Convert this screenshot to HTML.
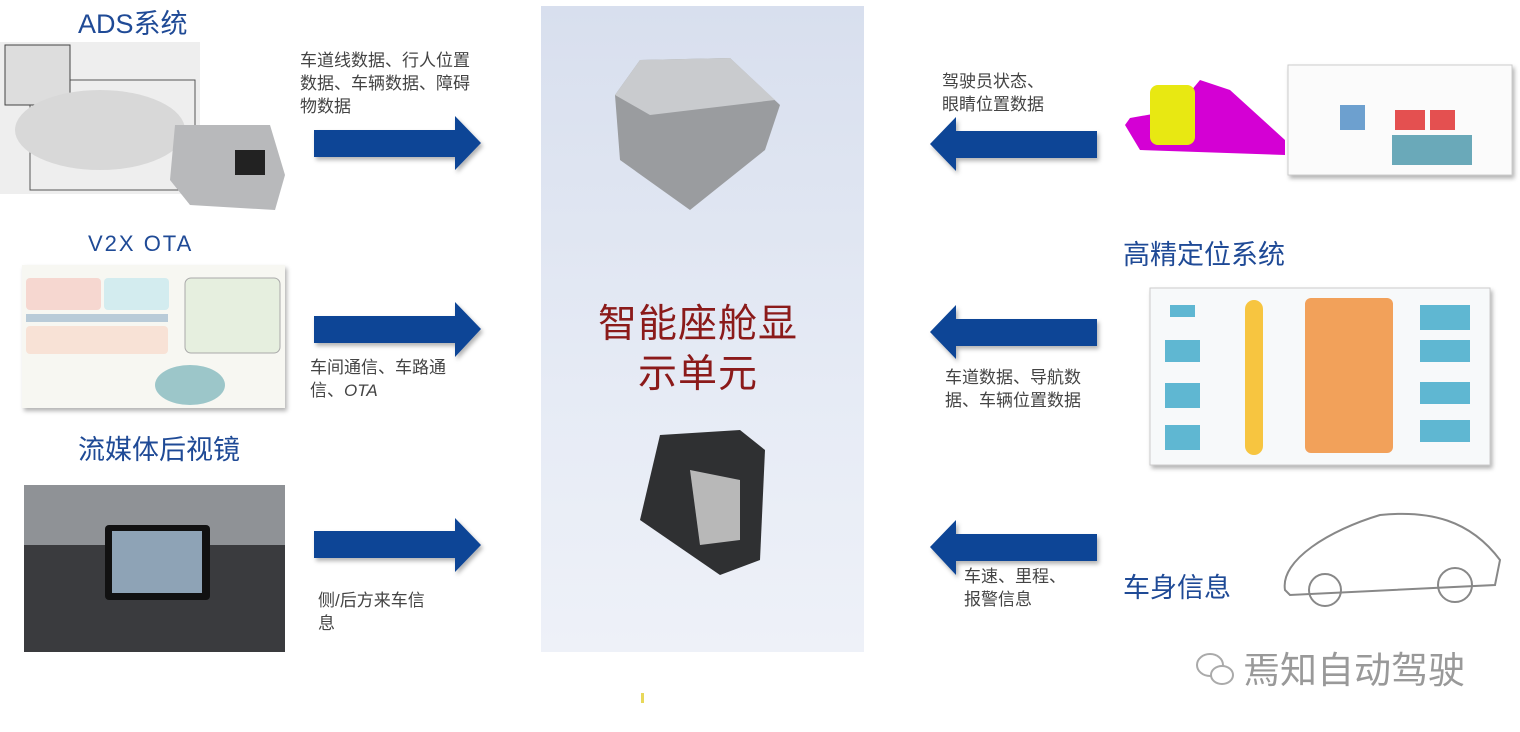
<!DOCTYPE html>
<html><head><meta charset="utf-8"><style>
body{margin:0;width:1520px;height:732px;background:#fff;position:relative;overflow:hidden;font-family:"Liberation Sans","Noto Sans CJK SC",sans-serif}
.a{position:absolute}
.t{position:absolute;font-size:17px;line-height:23px;color:#444;white-space:nowrap}
.h{position:absolute;color:#1f4a96;white-space:nowrap}
</style></head><body>
<div class="a" style="left:541px;top:6px;width:323px;height:646px;background:linear-gradient(#d8dfee,#e6ebf5 60%,#eef1f8)"></div>
<div class="a" style="left:578px;top:300px;width:240px;font-size:39px;line-height:50px;color:#8b1a1a;text-align:center;letter-spacing:1px">智能座舱显<br>示单元</div>
<svg class="a" style="left:0;top:0" width="1520" height="732">
<defs><filter id="s"><feDropShadow dx="2" dy="3" stdDeviation="2" flood-opacity=".3"/></filter></defs>
<g fill="#0f4596" filter="url(#s)">
<polygon points="314,130 455,130 455,116 481,143 455,170 455,157 314,157"/>
<polygon points="314,316 455,316 455,302 481,329 455,357 455,343 314,343"/>
<polygon points="314,531 455,531 455,518 481,545 455,572 455,558 314,558"/>
<polygon points="1097,131 956,131 956,117 930,144 956,171 956,158 1097,158"/>
<polygon points="1097,319 956,319 956,305 930,332 956,359 956,346 1097,346"/>
<polygon points="1097,534 956,534 956,520 930,547 956,575 956,561 1097,561"/>
</g>
<!-- top device -->
<polygon points="615,95 640,60 730,58 780,105 765,150 690,210 620,160" fill="#9a9c9f"/>
<polygon points="640,60 730,58 775,100 650,115 615,95" fill="#c9cbce"/>
<!-- bottom device -->
<polygon points="660,435 740,430 765,450 760,560 720,575 640,520" fill="#2f3032"/>
<polygon points="690,470 740,480 740,540 700,545" fill="#b8b8b8"/>
<!-- ADS images -->
<rect x="0" y="42" width="200" height="152" fill="#eeeeee"/>
<rect x="30" y="80" width="165" height="110" fill="none" stroke="#555"/>
<rect x="5" y="45" width="65" height="60" fill="#ddd" stroke="#444"/>
<ellipse cx="100" cy="130" rx="85" ry="40" fill="#d8d8d8"/>
<polygon points="175,125 270,125 285,175 275,210 190,205 170,180" fill="#b8b9bb"/>
<rect x="235" y="150" width="30" height="25" fill="#222"/>
<!-- V2X -->
<rect x="22" y="265" width="263" height="143" fill="#f7f7f2" filter="url(#s)"/>
<rect x="26" y="278" width="75" height="32" fill="#f6d7d0" rx="4"/>
<rect x="104" y="278" width="65" height="32" fill="#d3ecef" rx="4"/>
<rect x="26" y="314" width="142" height="8" fill="#b9cbd8"/>
<rect x="26" y="326" width="142" height="28" fill="#f8e2d6" rx="4"/>
<rect x="185" y="278" width="95" height="75" fill="#e6efdf" stroke="#aaa" rx="6"/>
<ellipse cx="190" cy="385" rx="35" ry="20" fill="#9cc6c9"/>
<!-- mirror -->
<rect x="24" y="485" width="261" height="167" fill="#3a3b3e"/>
<rect x="24" y="485" width="261" height="60" fill="#8f9296"/>
<rect x="105" y="525" width="105" height="75" fill="#111" rx="4"/>
<rect x="112" y="531" width="90" height="62" fill="#8ea3b6"/>
<!-- right top -->
<rect x="1125" y="78" width="163" height="84" fill="#fff"/>
<polygon points="1130,118 1175,110 1200,80 1230,90 1285,140 1285,155 1140,150 1125,125" fill="#d400d4"/>
<rect x="1150" y="85" width="45" height="60" fill="#e8e812" rx="8"/>
<rect x="1288" y="65" width="224" height="110" fill="#fbfbfb" stroke="#ccc" filter="url(#s)"/>
<rect x="1395" y="110" width="30" height="20" fill="#e45050"/><rect x="1430" y="110" width="25" height="20" fill="#e45050"/>
<rect x="1340" y="105" width="25" height="25" fill="#6da0cf"/><rect x="1392" y="135" width="80" height="30" fill="#6aa9b9"/>
<!-- HD positioning diagram -->
<rect x="1150" y="288" width="340" height="177" fill="#f7f9fa" stroke="#ccc" filter="url(#s)"/>
<rect x="1245" y="300" width="18" height="155" fill="#f7c540" rx="9"/>
<rect x="1305" y="298" width="88" height="155" fill="#f2a15a" rx="6"/>
<g fill="#5fb7d2"><rect x="1420" y="305" width="50" height="25"/><rect x="1420" y="340" width="50" height="22"/><rect x="1420" y="382" width="50" height="22"/><rect x="1420" y="420" width="50" height="22"/>
<rect x="1165" y="340" width="35" height="22"/><rect x="1165" y="383" width="35" height="25"/><rect x="1165" y="425" width="35" height="25"/><rect x="1170" y="305" width="25" height="12"/></g>
<!-- car sketch -->
<path d="M1285,590 C1280,560 1330,530 1380,515 C1430,510 1470,520 1500,560 L1495,585 L1290,595 Z" fill="none" stroke="#888" stroke-width="2"/>
<circle cx="1325" cy="590" r="16" fill="none" stroke="#888" stroke-width="2"/><circle cx="1455" cy="585" r="17" fill="none" stroke="#888" stroke-width="2"/>
<ellipse cx="1210" cy="665" rx="13" ry="11" fill="none" stroke="#aaa" stroke-width="2"/><ellipse cx="1222" cy="675" rx="11" ry="9" fill="#fff" stroke="#aaa" stroke-width="2"/>
<rect x="641" y="693" width="3" height="10" fill="#e8d85a"/>
</svg>
<div class="h" style="left:78px;top:2px;font-size:27px">ADS系统</div>
<div class="h" style="left:88px;top:231px;font-size:22px;letter-spacing:2px">V2X OTA</div>
<div class="h" style="left:78px;top:428px;font-size:27px">流媒体后视镜</div>
<div class="h" style="left:1123px;top:233px;font-size:27px">高精定位系统</div>
<div class="h" style="left:1123px;top:566px;font-size:27px">车身信息</div>
<div class="t" style="left:300px;top:49px">车道线数据、行人位置<br>数据、车辆数据、障碍<br>物数据</div>
<div class="t" style="left:310px;top:356px">车间通信、车路通<br>信、<i>OTA</i></div>
<div class="t" style="left:318px;top:589px">侧/后方来车信<br>息</div>
<div class="t" style="left:942px;top:70px">驾驶员状态、<br>眼睛位置数据</div>
<div class="t" style="left:945px;top:366px">车道数据、导航数<br>据、车辆位置数据</div>
<div class="t" style="left:964px;top:565px">车速、里程、<br>报警信息</div>
<div class="a" style="left:1243px;top:640px;font-size:37px;color:#999;white-space:nowrap">焉知自动驾驶</div>
</body></html>
